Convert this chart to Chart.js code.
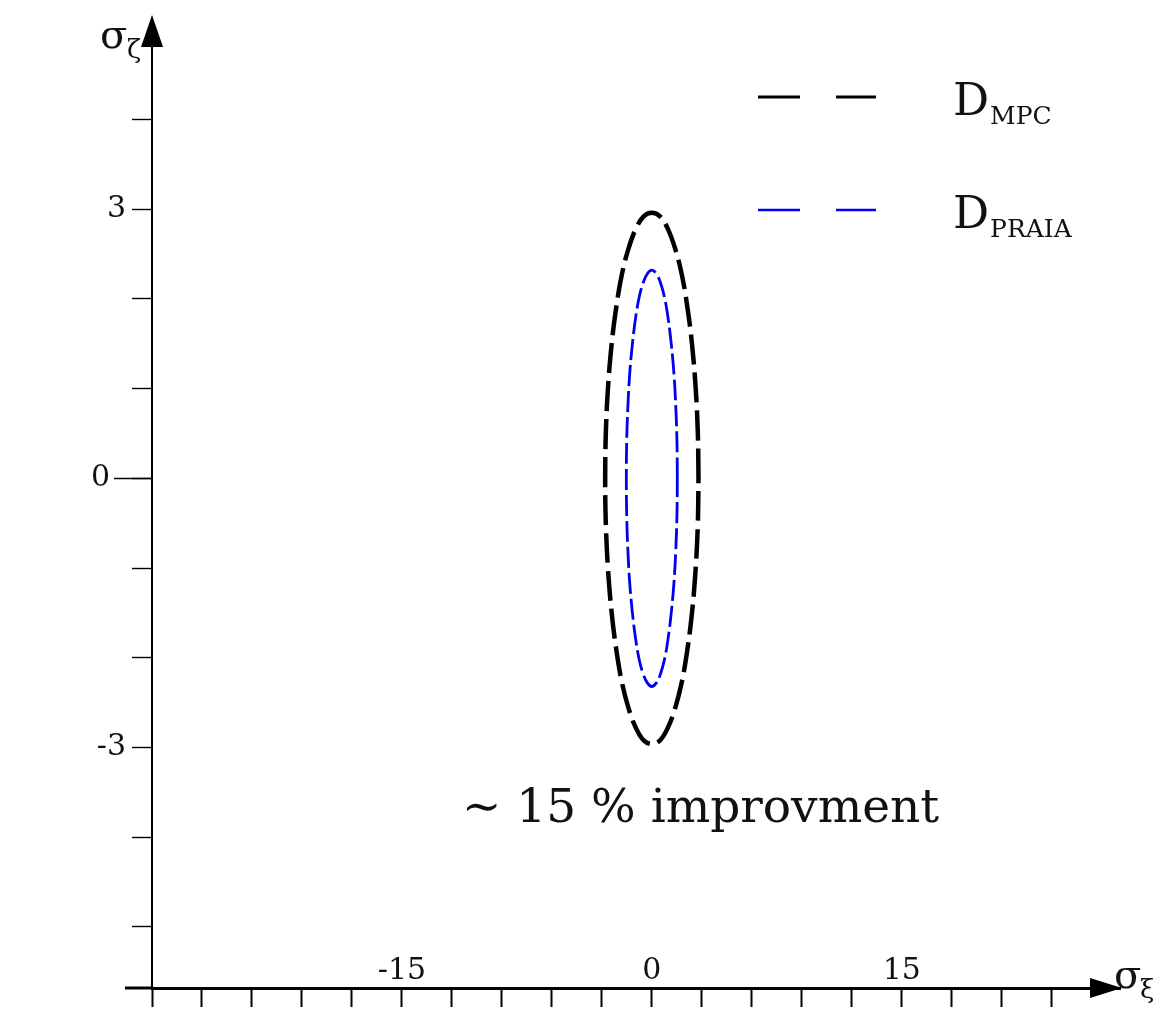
<!DOCTYPE html>
<html>
<head>
<meta charset="utf-8">
<title>sigma ellipses</title>
<script src="https://cdn.jsdelivr.net/npm/chart.js@4.4.0/dist/chart.umd.min.js"></script>
<style>
  html, body { margin: 0; padding: 0; background: #fff; }
  #wrap { width: 1160px; height: 1011px; }
</style>
</head>
<body>
<div id="wrap"><canvas id="chart" width="1160" height="1011"></canvas></div>
<script>
// error ellipses (sigma_xi, sigma_zeta)
const mpcX = [2.80, 2.76, 2.63, 2.42, 2.14, 1.80, 1.40, 0.96, 0.49, 0, -0.49, -0.96, -1.40, -1.80, -2.14, -2.42, -2.63, -2.76, -2.80,
  -2.76, -2.63, -2.42, -2.14, -1.80, -1.40, -0.96, -0.49, 0, 0.49, 0.96, 1.40, 1.80, 2.14, 2.42, 2.63, 2.76, 2.80];
const mpcY = [0, 0.51, 1.01, 1.48, 1.90, 2.27, 2.56, 2.78, 2.92, 2.96, 2.92, 2.78, 2.56, 2.27, 1.90, 1.48, 1.01, 0.51, 0,
  -0.51, -1.01, -1.48, -1.90, -2.27, -2.56, -2.78, -2.92, -2.96, -2.92, -2.78, -2.56, -2.27, -1.90, -1.48, -1.01, -0.51, 0];
const praiaX = [1.53, 1.51, 1.44, 1.33, 1.17, 0.98, 0.77, 0.52, 0.27, 0, -0.27, -0.52, -0.77, -0.98, -1.17, -1.33, -1.44, -1.51, -1.53,
  -1.51, -1.44, -1.33, -1.17, -0.98, -0.77, -0.52, -0.27, 0, 0.27, 0.52, 0.77, 0.98, 1.17, 1.33, 1.44, 1.51, 1.53];
const praiaY = [0, 0.40, 0.79, 1.16, 1.49, 1.78, 2.01, 2.18, 2.28, 2.32, 2.28, 2.18, 2.01, 1.78, 1.49, 1.16, 0.79, 0.40, 0,
  -0.40, -0.79, -1.16, -1.49, -1.78, -2.01, -2.18, -2.28, -2.32, -2.28, -2.18, -2.01, -1.78, -1.49, -1.16, -0.79, -0.40, 0];

const seriesNames = ['MPC', 'PRAIA'];
const xTickValues = [-30, -27, -24, -21, -18, -15, -12, -9, -6, -3, 0, 3, 6, 9, 12, 15, 18, 21, 24];
const xTickLabels = [-15, 0, 15];
const yTickValues = [-5, -4, -3, -2, -1, 0, 1, 2, 3, 4];
const yTickLabels = [-3, 3];
const note = '\u223C 15 % improvment';

const serif = 'DejaVu Serif';
const ink = '#111';

function toPoints(xs, ys) {
  return xs.map((x, i) => ({ x: x, y: ys[i] }));
}

// no automatic label overhang, the layout padding does the placing
function noPadding(s) {
  s.paddingTop = 0; s.paddingBottom = 0; s.paddingLeft = 0; s.paddingRight = 0;
}

// arrows, axis names, legend and the note
const decorations = {
  id: 'decorations',
  afterDraw(chart) {
    const ctx = chart.ctx;
    const area = chart.chartArea;
    const yAxisX = area.left;
    const xAxisY = area.bottom;
    ctx.save();
    ctx.fillStyle = '#000';
    ctx.strokeStyle = '#000';

    // x axis runs a bit past the y axis
    ctx.lineWidth = 3;
    ctx.beginPath();
    ctx.moveTo(125, xAxisY);
    ctx.lineTo(yAxisX, xAxisY);
    ctx.stroke();

    // arrow heads
    ctx.beginPath();
    ctx.moveTo(yAxisX, area.top - 3);
    ctx.lineTo(yAxisX - 11, area.top + 29);
    ctx.lineTo(yAxisX + 11, area.top + 29);
    ctx.closePath();
    ctx.fill();
    ctx.beginPath();
    ctx.moveTo(area.right + 2, xAxisY);
    ctx.lineTo(area.right - 30, xAxisY - 10);
    ctx.lineTo(area.right - 30, xAxisY + 10);
    ctx.closePath();
    ctx.fill();

    // axis names
    ctx.fillStyle = ink;
    ctx.textBaseline = 'alphabetic';
    ctx.textAlign = 'left';
    ctx.font = '40px "' + serif + '"';
    ctx.fillText('\u03C3', 100, 48);
    ctx.fillText('\u03C3', area.right - 6, xAxisY);
    ctx.font = '26px "' + serif + '"';
    ctx.fillText('\u03B6', 127, 58);
    ctx.fillText('\u03BE', area.right + 20, xAxisY + 10);

    // legend
    const rows = [97, 210];
    chart.data.datasets.forEach((ds, i) => {
      const y = rows[i];
      ctx.strokeStyle = ds.borderColor;
      ctx.lineWidth = i === 0 ? 3 : 2.6;
      ctx.beginPath();
      ctx.moveTo(758, y); ctx.lineTo(800, y);
      ctx.moveTo(836, y); ctx.lineTo(876, y);
      ctx.stroke();
      ctx.fillStyle = ink;
      ctx.font = '45px "' + serif + '"';
      ctx.fillText('D', 953, y + 18);
      const w = ctx.measureText('D').width;
      ctx.font = '25px "' + serif + '"';
      ctx.fillText(seriesNames[i], 953 + w + 1, y + 27);
    });

    // note
    ctx.font = '47px "' + serif + '"';
    ctx.fillText(note, 462, 822);
    ctx.restore();
  }
};

new Chart(document.getElementById('chart'), {
  type: 'scatter',
  data: {
    datasets: [
      {
        label: 'D MPC',
        data: toPoints(mpcX, mpcY),
        showLine: true,
        borderColor: '#000',
        borderWidth: 4.5,
        borderDash: [30, 8],
        tension: 0.4,
        pointRadius: 0,
        fill: false
      },
      {
        label: 'D PRAIA',
        data: toPoints(praiaX, praiaY),
        showLine: true,
        borderColor: '#0000f0',
        borderWidth: 2.8,
        borderDash: [21, 5],
        tension: 0.4,
        pointRadius: 0,
        fill: false
      }
    ]
  },
  options: {
    responsive: false,
    animation: false,
    layout: { padding: { left: 92, right: 40, top: 18, bottom: 23 } },
    plugins: { legend: { display: false }, tooltip: { enabled: false } },
    scales: {
      x: {
        type: 'linear',
        min: -30,
        max: 28.1,
        position: { y: -5.68 },
        border: { color: '#000', width: 3 },
        grid: { drawOnChartArea: false, tickLength: 17, tickWidth: 2, tickColor: '#000' },
        afterBuildTicks: s => { s.ticks = xTickValues.map(v => ({ value: v })); },
        afterFit: noPadding,
        ticks: {
          autoSkip: false,
          maxRotation: 0,
          padding: -52,
          color: ink,
          font: { family: serif, size: 30 },
          callback: v => xTickLabels.includes(v) ? String(v) : ''
        }
      },
      y: {
        type: 'linear',
        min: -5.68,
        max: 5.13,
        position: 'left',
        weight: 1,
        border: { color: '#000', width: 2 },
        grid: { drawOnChartArea: false, tickLength: 20, tickWidth: 1.4, tickColor: '#000' },
        afterBuildTicks: s => { s.ticks = yTickValues.map(v => ({ value: v })); },
        afterFit: s => { noPadding(s); s.width = 60; },
        ticks: {
          autoSkip: false,
          padding: 6,
          color: ink,
          font: { family: serif, size: 30 },
          callback: v => yTickLabels.includes(v) ? String(v) : ''
        }
      },
      // longer tick at zero, with its own label further out
      y0: {
        axis: 'y',
        type: 'linear',
        min: -5.68,
        max: 5.13,
        position: 'left',
        weight: 0,
        border: { display: false },
        grid: { drawOnChartArea: false, tickLength: 38, tickWidth: 1.4, tickColor: '#000' },
        afterBuildTicks: s => { s.ticks = [{ value: 0 }]; },
        afterFit: s => { noPadding(s); s.width = 0; },
        ticks: {
          mirror: true,
          padding: -61,
          color: ink,
          font: { family: serif, size: 30 },
          callback: v => String(v)
        }
      }
    }
  },
  plugins: [decorations]
});
</script>
</body>
</html>
